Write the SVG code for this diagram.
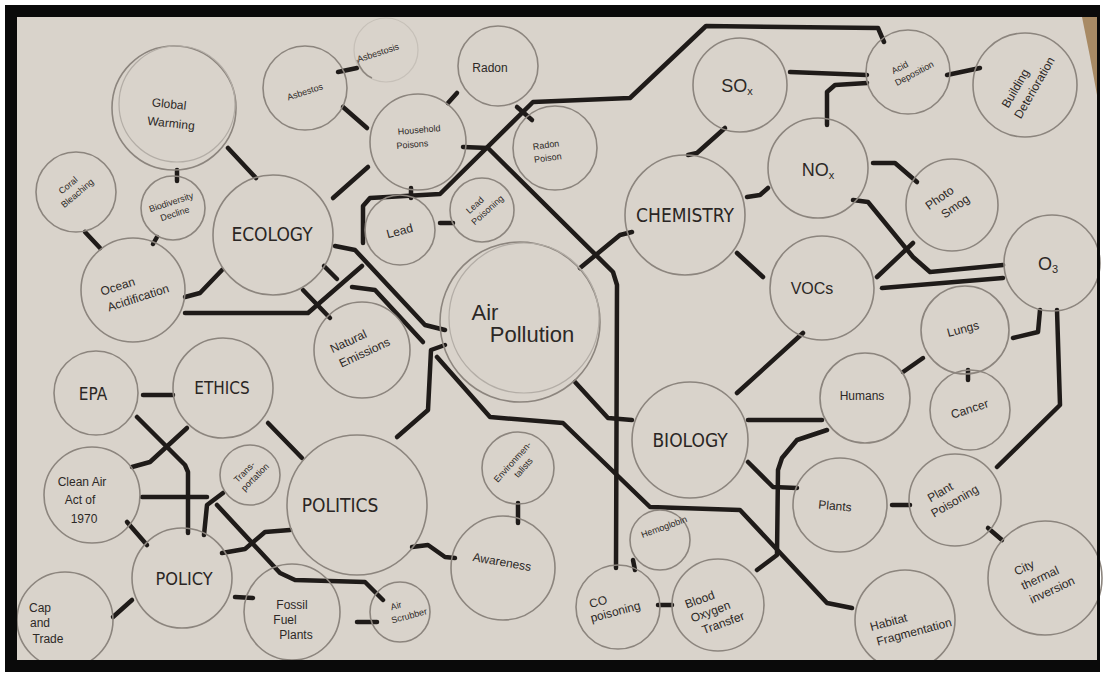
<svg xmlns="http://www.w3.org/2000/svg" width="1103" height="676" viewBox="0 0 1103 676">
<style>
.n{fill:none;stroke:#8c857e;stroke-width:1.6}
.n2{fill:none;stroke:#b3ada6;stroke-width:1.2}
.w{fill:none;stroke:#1f1b19;stroke-width:4.5;stroke-linecap:round;stroke-linejoin:round}
.h{font-family:"Liberation Sans","DejaVu Sans",sans-serif;font-size:12px;fill:#2c2826;text-anchor:middle}
.s{font-size:9px}
.b{font-family:"DejaVu Sans Condensed","DejaVu Sans",sans-serif;font-size:19px;fill:#2a2624;text-anchor:middle}
</style>
<rect x="0" y="0" width="1103" height="676" fill="#ffffff"/>
<rect x="17" y="17" width="1080" height="643" fill="#d9d3cb"/>
<path d="M1082 17 L1097 17 L1097 95 Q1090 55 1082 17 Z" fill="#a88a64"/>

<g id="connectors">
<path class="w" d="M228 148 L256 178"/>
<path class="w" d="M177 170 L177 181"/>
<path class="w" d="M85 232 L100 248"/>
<path class="w" d="M157 237 L153 244"/>
<path class="w" d="M185 297 L200 293 L222 270"/>
<path class="w" d="M185 313 L308 313 L362 266"/>
<path class="w" d="M303 290 L330 318"/>
<path class="w" d="M324 266 L337 279"/>
<path class="w" d="M333 198 L368 167"/>
<path class="w" d="M343 107 L367 128"/>
<path class="w" d="M338 72 L357 68"/>
<path class="w" d="M448 103 L457 93"/>
<path class="w" d="M517 107 L532 120"/>
<path class="w" d="M363 243 L363 206 L370 198 L440 194 L533 102 L630 98 L706 26 L878 28 L884 42"/>
<path class="w" d="M411 188 L411 198"/>
<path class="w" d="M440 223 L453 223"/>
<path class="w" d="M463 147 L488 148 L613 272 L617 285 L616 568"/>
<path class="w" d="M580 268 L620 235 L632 232"/>
<path class="w" d="M335 246 L355 250 L425 325 L445 330"/>
<path class="w" d="M352 287 L375 290 L423 342"/>
<path class="w" d="M445 345 L431 350 L428 410 L397 437"/>
<path class="w" d="M437 357 L490 417 L563 423 L650 507 L740 510 L827 603 L852 608"/>
<path class="w" d="M575 382 L608 418 L632 420"/>
<path class="w" d="M737 393 L803 333"/>
<path class="w" d="M748 420 L822 420"/>
<path class="w" d="M748 462 L773 487 L797 488"/>
<path class="w" d="M827 430 L797 440 L782 458 L778 470 L777 555 L757 570"/>
<path class="w" d="M633 560 L635 570"/>
<path class="w" d="M658 605 L672 605"/>
<path class="w" d="M518 503 L518 523"/>
<path class="w" d="M412 547 L428 545 L445 557 L455 558"/>
<path class="w" d="M357 622 L377 622"/>
<path class="w" d="M217 505 L280 573 L295 580 L365 582 L383 600"/>
<path class="w" d="M143 395 L173 395"/>
<path class="w" d="M137 417 L185 465 L188 472 L188 533"/>
<path class="w" d="M187 428 L150 462 L132 467"/>
<path class="w" d="M142 497 L207 497"/>
<path class="w" d="M223 493 L207 505 L204 535"/>
<path class="w" d="M127 522 L147 545"/>
<path class="w" d="M268 423 L302 458"/>
<path class="w" d="M222 553 L245 549 L265 532 L290 530"/>
<path class="w" d="M113 617 L132 600"/>
<path class="w" d="M235 597 L253 598"/>
<path class="w" d="M725 128 L697 153 L688 155"/>
<path class="w" d="M747 197 L760 195 L768 188"/>
<path class="w" d="M737 253 L763 277"/>
<path class="w" d="M790 72 L867 75"/>
<path class="w" d="M827 125 L827 92 L835 85 L867 83"/>
<path class="w" d="M947 75 L980 68"/>
<path class="w" d="M873 163 L895 163 L917 182"/>
<path class="w" d="M853 200 L868 202 L913 257 L930 272 L1003 265"/>
<path class="w" d="M913 243 L877 277"/>
<path class="w" d="M882 288 L1003 278"/>
<path class="w" d="M1040 310 L1038 332 L1013 338"/>
<path class="w" d="M1057 310 L1060 405 L997 467"/>
<path class="w" d="M903 372 L923 358"/>
<path class="w" d="M968 370 L968 380"/>
<path class="w" d="M892 505 L910 505"/>
<path class="w" d="M988 528 L1002 540"/>
</g>

<g id="global-warming"><circle class="n" cx="174" cy="108" r="62"/><circle class="n2" cx="177" cy="104" r="58"/><text class="h" transform="rotate(6 168 114)"><tspan x="168" y="108">Global</tspan><tspan x="172" y="127">Warming</tspan></text></g>
<g id="coral-bleaching"><circle class="n" cx="76" cy="192" r="40"/><text class="h s" transform="rotate(-40 72 190)"><tspan x="72" y="187">Coral</tspan><tspan x="74" y="199">Bleaching</tspan></text></g>
<g id="biodiversity"><circle class="n" cx="173" cy="208" r="32"/><text class="h s" transform="rotate(-18 173 208)"><tspan x="173" y="205">Biodiversity</tspan><tspan x="173" y="217">Decline</tspan></text></g>
<g id="ocean-acidification"><circle class="n" cx="133" cy="290" r="52"/><text class="h" transform="rotate(-18 130 292)"><tspan x="120" y="287">Ocean</tspan><tspan x="136" y="304">Acidification</tspan></text></g>
<g id="ecology"><circle class="n" cx="273" cy="235" r="60"/><text class="b" x="272" y="241">ECOLOGY</text></g>
<g id="asbestos"><circle class="n" cx="305" cy="88" r="42"/><text class="h s" x="305" y="95" transform="rotate(-18 305 92)">Asbestos</text></g>
<g id="asbestosis"><circle class="n2" cx="386" cy="50" r="32" stroke-opacity="0.5"/><path class="n" d="M357 60 Q362 74 372 78"/><text class="h s" x="378" y="56" transform="rotate(-18 378 53)">Asbestosis</text></g>
<g id="radon"><circle class="n" cx="498" cy="66" r="40"/><text class="h" x="490" y="72">Radon</text></g>
<g id="household-poisons"><circle class="n" cx="418" cy="142" r="48"/><text class="h s" transform="rotate(-5 418 140)"><tspan x="420" y="133">Household</tspan><tspan x="412" y="147">Poisons</tspan></text></g>
<g id="radon-poison"><circle class="n" cx="555" cy="148" r="42"/><text class="h s" transform="rotate(-8 547 152)"><tspan x="547" y="148">Radon</tspan><tspan x="547" y="161">Poison</tspan></text></g>
<g id="lead"><circle class="n" cx="400" cy="230" r="35"/><text class="h" x="400" y="235" transform="rotate(-15 400 232)">Lead</text></g>
<g id="lead-poisoning"><circle class="n" cx="482" cy="210" r="32"/><text class="h s" transform="rotate(-42 482 207)"><tspan x="478" y="204">Lead</tspan><tspan x="484" y="216">Poisoning</tspan></text></g>
<g id="air-pollution"><circle class="n" cx="520" cy="322" r="80"/><circle class="n2" cx="524" cy="318" r="75"/><text class="h" style="font-size:22px"><tspan x="485" y="320">Air</tspan><tspan x="532" y="342">Pollution</tspan></text></g>
<g id="natural-emissions"><circle class="n" cx="362" cy="350" r="48"/><text class="h" transform="rotate(-25 358 348)"><tspan x="352" y="342">Natural</tspan><tspan x="362" y="359">Emissions</tspan></text></g>
<g id="chemistry"><circle class="n" cx="685" cy="215" r="60"/><text class="b" x="685" y="222">CHEMISTRY</text></g>
<g id="sox"><circle class="n" cx="740" cy="85" r="47"/><text class="h" style="font-size:18px" x="737" y="92">SO<tspan style="font-size:11px" dy="3">x</tspan></text></g>
<g id="acid-deposition"><circle class="n" cx="908" cy="72" r="42"/><text class="h s" transform="rotate(-28 908 70)"><tspan x="902" y="67">Acid</tspan><tspan x="912" y="79">Deposition</tspan></text></g>
<g id="building-deterioration"><circle class="n" cx="1025" cy="85" r="52"/><text class="h" transform="rotate(-60 1025 88)"><tspan x="1020" y="84">Building</tspan><tspan x="1030" y="100">Deterioration</tspan></text></g>
<g id="nox"><circle class="n" cx="818" cy="168" r="50"/><text class="h" style="font-size:18px" x="818" y="176">NO<tspan style="font-size:11px" dy="3">x</tspan></text></g>
<g id="photo-smog"><circle class="n" cx="952" cy="205" r="46"/><text class="h" transform="rotate(-35 948 203)"><tspan x="944" y="198">Photo</tspan><tspan x="952" y="214">Smog</tspan></text></g>
<g id="vocs"><circle class="n" cx="822" cy="288" r="52"/><text class="h" style="font-size:16px" x="812" y="294">VOCs</text></g>
<g id="o3"><circle class="n" cx="1052" cy="263" r="48"/><text class="h" style="font-size:18px" x="1048" y="270">O<tspan style="font-size:11px" dy="3">3</tspan></text></g>
<g id="lungs"><circle class="n" cx="965" cy="330" r="44"/><text class="h" x="963" y="333" transform="rotate(-15 963 329)">Lungs</text></g>
<g id="humans"><circle class="n" cx="865" cy="398" r="45"/><text class="h" x="862" y="400">Humans</text></g>
<g id="cancer"><circle class="n" cx="970" cy="410" r="40"/><text class="h" x="970" y="413" transform="rotate(-18 970 410)">Cancer</text></g>
<g id="biology"><circle class="n" cx="690" cy="440" r="58"/><text class="b" x="690" y="447">BIOLOGY</text></g>
<g id="plants"><circle class="n" cx="840" cy="505" r="47"/><text class="h" x="835" y="510" transform="rotate(5 835 506)">Plants</text></g>
<g id="plant-poisoning"><circle class="n" cx="955" cy="500" r="46"/><text class="h" transform="rotate(-30 950 497)"><tspan x="944" y="492">Plant</tspan><tspan x="952" y="507">Poisoning</tspan></text></g>
<g id="city-thermal-inversion"><circle class="n" cx="1045" cy="578" r="57"/><text class="h" transform="rotate(-25 1040 578)"><tspan x="1030" y="566">City</tspan><tspan x="1040" y="582">thermal</tspan><tspan x="1046" y="598">inversion</tspan></text></g>
<g id="habitat-fragmentation"><circle class="n" cx="905" cy="620" r="50"/><text class="h" transform="rotate(-15 905 625)"><tspan x="890" y="622">Habitat</tspan><tspan x="912" y="638">Fragmentation</tspan></text></g>
<g id="blood-oxygen-transfer"><circle class="n" cx="718" cy="605" r="46"/><text class="h" transform="rotate(-20 712 610)"><tspan x="704" y="600">Blood</tspan><tspan x="710" y="615">Oxygen</tspan><tspan x="718" y="630">Transfer</tspan></text></g>
<g id="co-poisoning"><circle class="n" cx="618" cy="607" r="42"/><text class="h" transform="rotate(-15 610 607)"><tspan x="600" y="603">CO</tspan><tspan x="614" y="617">poisoning</tspan></text></g>
<g id="hemoglobin"><circle class="n" cx="660" cy="540" r="30"/><text class="h s" x="664" y="530" transform="rotate(-20 664 527)">Hemoglobin</text></g>
<g id="awareness"><circle class="n" cx="503" cy="568" r="52"/><text class="h" x="502" y="566" transform="rotate(10 502 562)">Awareness</text></g>
<g id="environmentalists"><circle class="n" cx="518" cy="468" r="36"/><text class="h s" transform="rotate(-48 517 466)"><tspan x="517" y="463">Environmen-</tspan><tspan x="520" y="475">talists</tspan></text></g>
<g id="politics"><circle class="n" cx="357" cy="505" r="70"/><text class="b" x="340" y="512">POLITICS</text></g>
<g id="transportation"><circle class="n" cx="250" cy="475" r="30"/><text class="h s" transform="rotate(-45 250 475)"><tspan x="248" y="472">Trans-</tspan><tspan x="252" y="483">portation</tspan></text></g>
<g id="ethics"><circle class="n" cx="223" cy="388" r="50"/><text class="b" style="font-size:17px" x="222" y="394">ETHICS</text></g>
<g id="epa"><circle class="n" cx="96" cy="393" r="42"/><text class="b" style="font-size:17px" x="93" y="400">EPA</text></g>
<g id="clean-air-act"><circle class="n" cx="92" cy="495" r="48"/><text class="h"><tspan x="82" y="486">Clean Air</tspan><tspan x="80" y="504">Act of</tspan><tspan x="84" y="523">1970</tspan></text></g>
<g id="policy"><circle class="n" cx="182" cy="578" r="50"/><text class="b" style="font-size:18px" x="184" y="585">POLICY</text></g>
<g id="cap-and-trade"><circle class="n" cx="65" cy="620" r="48"/><text class="h"><tspan x="40" y="612">Cap</tspan><tspan x="40" y="627">and</tspan><tspan x="48" y="643">Trade</tspan></text></g>
<g id="fossil-fuel-plants"><circle class="n" cx="292" cy="612" r="48"/><text class="h"><tspan x="292" y="609">Fossil</tspan><tspan x="285" y="624">Fuel</tspan><tspan x="296" y="639">Plants</tspan></text></g>
<g id="air-scrubber"><circle class="n" cx="400" cy="612" r="30"/><text class="h s" transform="rotate(-15 404 612)"><tspan x="398" y="607">Air</tspan><tspan x="408" y="620">Scrubber</tspan></text></g>

<path d="M5 5 H1100 V672 H5 Z M17 17 V660 H1097 V17 Z" fill="#0a0a0a" fill-rule="evenodd"/>
</svg>
